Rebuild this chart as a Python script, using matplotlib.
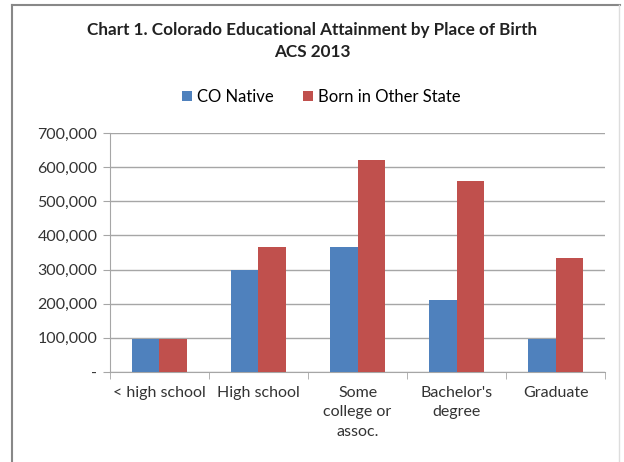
import numpy as np
import matplotlib.pyplot as plt
from matplotlib.lines import Line2D

plt.rcParams['font.family'] = ['Lato', 'DejaVu Sans']

# dati
categorie = ["< high school", "High school", "Some\ncollege or\nassoc.", "Bachelor's\ndegree", "Graduate"]
co_native = [95000, 298000, 365000, 210000, 95000]
altro_stato = [95000, 365000, 622000, 560000, 333000]

blu = "#4F81BD"
rosso = "#C0504D"

fig = plt.figure(figsize=(6.24, 4.62), dpi=100)
ax = fig.add_axes([0.176, 0.195, 0.794, 0.517])

x = np.arange(len(categorie))
w = 0.28
ax.bar(x - w / 2, co_native, w, color=blu, label="CO Native", zorder=3)
ax.bar(x + w / 2, altro_stato, w, color=rosso, label="Born in Other State", zorder=3)

ax.set_xlim(-0.5, len(categorie) - 0.5)
ax.set_ylim(0, 700000)
ax.set_yticks(np.arange(0, 700001, 100000))
ax.set_yticklabels(["-"] + [f"{v:,}" for v in range(100000, 700001, 100000)], fontsize=11.5, color="#333333")
ax.yaxis.grid(True, color="#A6A6A6", linewidth=1, zorder=0)

# etichette categorie al centro, tacche tra le categorie
ax.set_xticks(x)
ax.set_xticklabels(categorie, fontsize=11.5, color="#333333", linespacing=1.5)
ax.tick_params(axis="x", length=0, pad=10)
ax.set_xticks(np.arange(-0.5, len(categorie)), minor=True)
ax.tick_params(axis="x", which="minor", length=5, color="#A6A6A6")
ax.tick_params(axis="y", length=5, color="#A6A6A6", pad=4)

for s in ["top", "right"]:
    ax.spines[s].set_visible(False)
for s in ["left", "bottom"]:
    ax.spines[s].set_color("#A6A6A6")

fig.text(0.5, 0.935, "Chart 1. Colorado Educational Attainment by Place of Birth",
         ha="center", va="center", fontsize=12.3, fontweight="bold", color="#222222")
fig.text(0.5, 0.887, "ACS 2013", ha="center", va="center", fontsize=12.3,
         fontweight="bold", color="#222222")

ax.legend(loc="center", bbox_to_anchor=(0.515, 0.79), bbox_transform=fig.transFigure,
          ncol=2, frameon=False, fontsize=12, handlelength=0.6, handleheight=0.6,
          columnspacing=1.8, handletextpad=0.3)

# cornice
fig.add_artist(Line2D([0.019, 0.019], [0, 0.99], color="#888888", linewidth=1.5))
fig.add_artist(Line2D([0.019, 0.993], [0.99, 0.99], color="#888888", linewidth=1.5))
fig.add_artist(Line2D([0.992, 0.992], [0, 0.99], color="#DDDDDD", linewidth=1))

fig.savefig("out.png", dpi=100)
